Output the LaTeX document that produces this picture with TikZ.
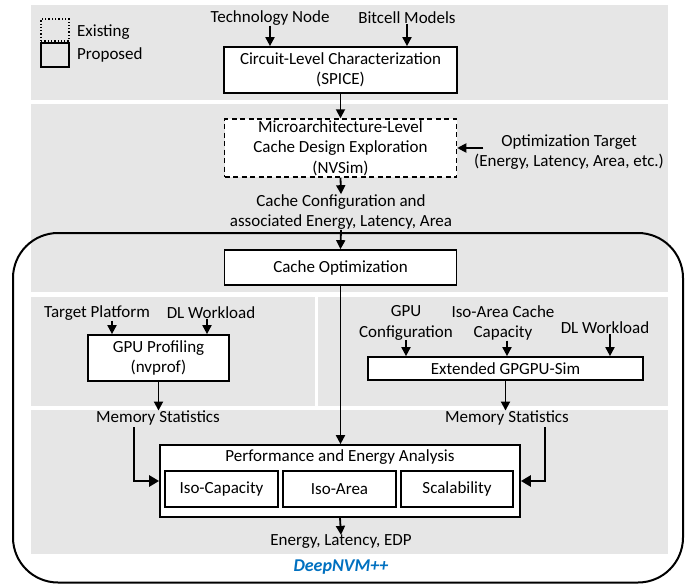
\documentclass[tikz,border=0pt]{standalone}
\usepackage{fontspec}
\setmainfont{Carlito}
\usetikzlibrary{arrows.meta}
\definecolor{panelgray}{RGB}{230,230,230}
\definecolor{nvblue}{HTML}{0070C0}
\newcommand\dfont{\fontsize{17pt}{20.5pt}\selectfont}
\tikzset{
  panel/.style={fill=panelgray, draw=none},
  box/.style={draw, line width=1.7pt, fill=white, inner sep=0pt, align=center, font=\dfont},
  lbl/.style={inner sep=0pt, align=center, font=\dfont},
  arr/.style={-{Triangle[width=9pt,length=9pt]}, line width=1.8pt},
  bigarr/.style={-{Triangle[width=11pt,length=10pt]}, line width=2.6pt},
}
\begin{document}
\begin{tikzpicture}[x=1pt,y=-1pt]
\useasboundingbox (0,0) rectangle (689,584);
% panels
\fill[panel] (31,5) rectangle (668,100);
\fill[panel] (31,104) rectangle (668,292);
\fill[panel] (31,297) rectangle (315,406);
\fill[panel] (318,297) rectangle (668,406);
\fill[panel] (31,410) rectangle (668,554);
% frame
\draw[line width=2pt, rounded corners=45pt] (13,233) rectangle (683,582.5);
% legend
\node[draw, dotted, line width=1.3pt, minimum width=28pt, minimum height=22pt, inner sep=0pt] (legex) at (55,30) {};
\node[draw, line width=1.6pt, minimum width=28pt, minimum height=24pt, inner sep=0pt] (legpr) at (55,55) {};
\node[lbl, anchor=west] (legext) at (77,32) {Existing};
\node[lbl, anchor=west] (legprt) at (77,55) {Proposed};
% top
\node[lbl] (tech) at (270,18) {Technology Node};
\node[lbl] (bitcell) at (407,18) {Bitcell Models};
\node[box, minimum width=233pt, minimum height=46pt] (circ) at (340.5,70) {Circuit-Level Characterization\\(SPICE)};
\draw[arr] (tech.south) -- (tech.south |- circ.north);
\draw[arr] (bitcell.south) -- (bitcell.south |- circ.north);
% nvsim
\node[box, dashed, line width=1.5pt, dash pattern=on 5pt off 3.5pt, minimum width=232pt, minimum height=58pt] (nvsim) at (340.5,148) {Microarchitecture-Level\\Cache Design Exploration\\(NVSim)};
\draw[arr] (circ.south) -- (nvsim.north);
\node[lbl] (opt) at (569,152) {Optimization Target\\(Energy, Latency, Area, etc.)};
\draw[arr] ([xshift=26pt]nvsim.east) -- (nvsim.east);
\node[lbl] (cfg) at (341,212) {Cache Configuration and\\associated Energy, Latency, Area};
\draw[arr] (nvsim.south) -- (cfg.north);
\node[box, minimum width=232pt, minimum height=35pt] (cacheopt) at (340.5,267.5) {Cache Optimization};
\draw[arr] (cfg.south) -- (cacheopt.north);
% left panel
\node[lbl] (tp) at (97,313) {Target Platform};
\node[lbl] (dlw1) at (211,313) {DL Workload};
\node[box, minimum width=141pt, minimum height=46pt] (gpuprof) at (158.5,358) {GPU Profiling\\(nvprof)};
\path (tp.south) ++(15,0) coordinate (tpa);
\path (dlw1.south) ++(-4,0) coordinate (dla);
\draw[arr] (tpa) -- (tpa |- gpuprof.north);
\draw[arr] (dla) -- (dla |- gpuprof.north);
\node[lbl] (msl) at (158,418) {Memory Statistics};
\draw[arr] (gpuprof.south) -- (gpuprof.south |- msl.north);
% right panel
\node[lbl] (gpucfg) at (406,323) {GPU\\Configuration};
\node[lbl] (isocap) at (503,323) {Iso-Area Cache\\Capacity};
\node[lbl] (dlw2) at (605,328) {DL Workload};
\node[box, minimum width=275pt, minimum height=23pt] (gpgpu) at (505.5,368.5) {Extended GPGPU-Sim};
\path (isocap.south) ++(4,0) coordinate (isa);
\path (dlw2.south) ++(5,0) coordinate (dwa);
\draw[arr] (gpucfg.south) -- (gpucfg.south |- gpgpu.north);
\draw[arr] (isa) -- (isa |- gpgpu.north);
\draw[arr] (dwa) -- (dwa |- gpgpu.north);
\node[lbl] (msr) at (507,418) {Memory Statistics};
\draw[arr] (gpgpu.south) -- (gpgpu.south |- msr.north);
% analysis
\node[draw, line width=1.7pt, fill=white, minimum width=360pt, minimum height=72pt, inner sep=0pt] (perf) at (340,481) {};
\node[lbl] (perft) at (340,457) {Performance and Energy Analysis};
\node[box, minimum width=113pt, minimum height=36pt] (isocapb) at (221.5,489) {Iso-Capacity};
\node[box, minimum width=113pt, minimum height=36pt] (isoareab) at (339.5,489) {Iso-Area};
\node[box, minimum width=112pt, minimum height=36pt] (scal) at (457,489) {Scalability};
\draw[arr] (cacheopt.south) -- (cacheopt.south |- perf.north);
\path (msl.south) ++(-24,2) coordinate (msla);
\path (msr.south) ++(38,2) coordinate (msra);
\draw[bigarr] (msla) |- (perf.west);
\draw[bigarr] (msra) |- (perf.east);
\node[lbl] (out) at (341,542) {Energy, Latency, EDP};
\draw[arr] (perf.south) -- (out.north);
\node[lbl, font=\fontsize{18pt}{20pt}\selectfont\bfseries\itshape, text=nvblue] (deep) at (341,567) {DeepNVM++};
\end{tikzpicture}
\end{document}
